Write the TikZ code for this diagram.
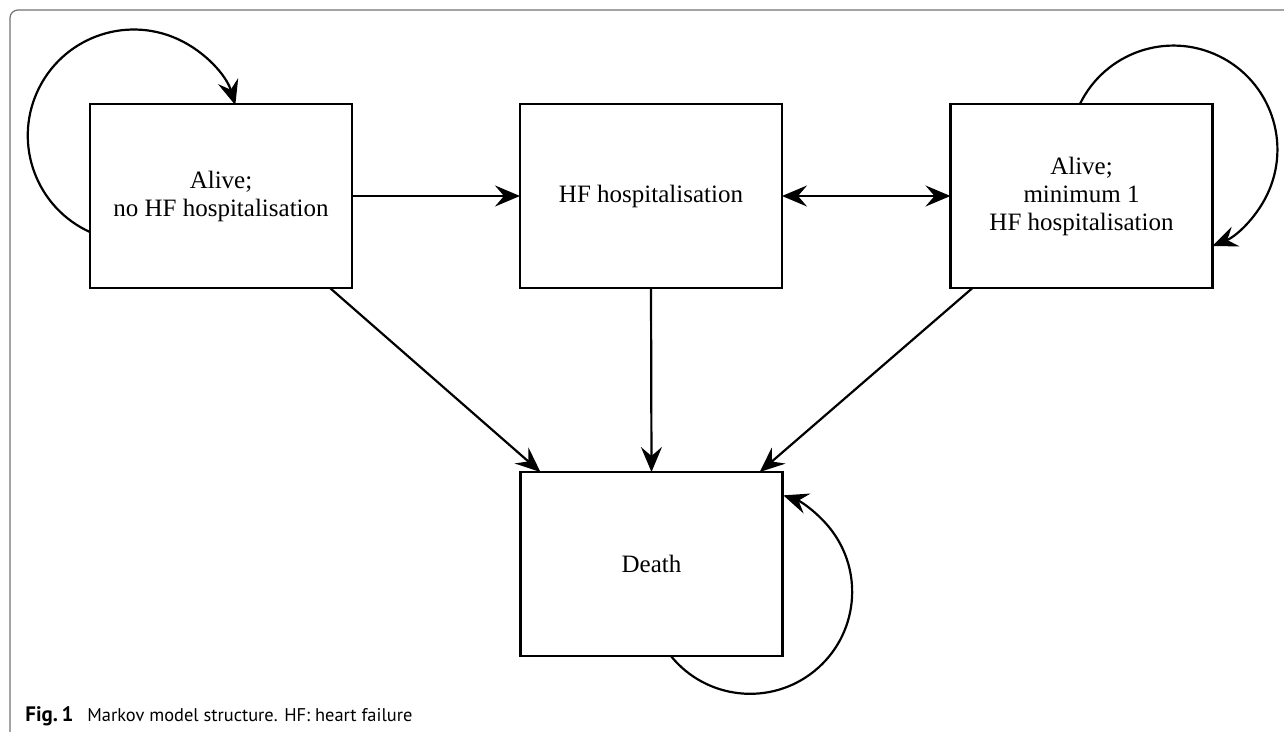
\documentclass[tikz,border=0pt]{standalone}
\usepackage{fontspec}
\usepackage{graphicx}
\setmainfont{Liberation Serif}
\newfontfamily\capfont{PT Sans}
\usetikzlibrary{arrows.meta,calc}
\begin{document}
\begin{tikzpicture}[x=0.5pt,y=-0.5pt,
  state/.style={draw, line width=1.25pt, minimum width=131pt, minimum height=92pt,
    inner sep=0pt, outer sep=0pt, align=center,
    font=\fontsize{12.5}{14}\selectfont},
  tip/.tip={Stealth[length=12.5pt,width=10.5pt,inset=4.5pt]},
  arr/.style={line width=1.1pt, -tip},
  darr/.style={line width=1.1pt, tip-tip},
  frame/.style={draw=black!55, line width=0.6pt, rounded corners=4pt}]
\useasboundingbox (0,0) rectangle (1284,732);
\fill[white] (0,0) rectangle (1284,732);
% frame
\coordinate (fb) at (10,734);
\coordinate (fc) at (10,10);
\coordinate (fr) at (1290,10);
\draw[frame] (fb) -- (fc) -- (fr);
% states
\node[state] (A) at (221,196) {Alive;\\no HF hospitalisation};
\node[state] (B) at (651,196) {HF hospitalisation};
\node[state] (C) at (1081.5,196) {Alive;\\minimum 1\\HF hospitalisation};
\node[state] (D) at (651.5,564) {Death};
% transitions
\draw[arr] (A.east) -- (B.west);
\draw[darr] (B.east) -- (C.west);
\draw[arr] ($(A.south west)!0.916!(A.south east)$) -- ($(D.north west)!0.076!(D.north east)$);
\draw[arr] (B.south) -- (D.north);
\draw[arr] ($(C.south west)!0.084!(C.south east)$) -- ($(D.north west)!0.913!(D.north east)$);
% self loops
\draw[arr] ($(A.north west)!0.696!(A.south west)$) arc[start angle=245.6, end angle=16.7, radius=53pt];
\draw[arr] ($(C.north west)!0.494!(C.north east)$) arc[start angle=154, end angle=-68, radius=52pt];
\draw[arr] ($(D.south west)!0.574!(D.south east)$) arc[start angle=219, end angle=431, radius=51pt];
% caption
\node[anchor=base west, inner sep=0pt, font=\capfont\fontsize{10}{12}\selectfont] (cap) at (25,721)
  {\resizebox{24pt}{!}{\textbf{Fig.\,1}}\hspace{7pt}\resizebox{162.5pt}{!}{Markov model structure. HF: heart failure}};
\end{tikzpicture}
\end{document}
